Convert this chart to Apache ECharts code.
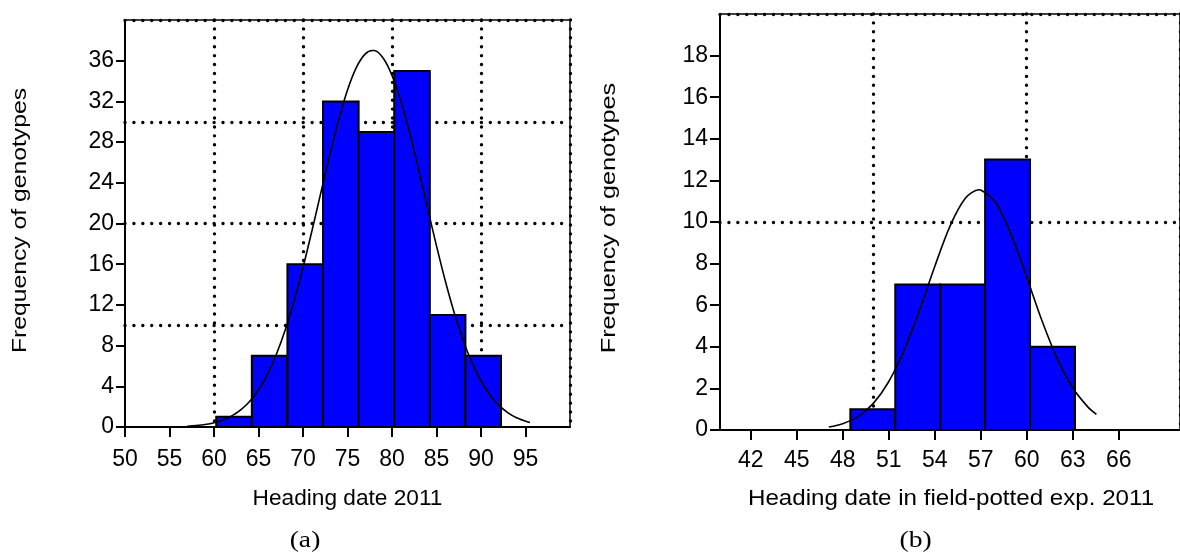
<!DOCTYPE html>
<html>
<head>
<meta charset="utf-8">
<script src="https://cdn.jsdelivr.net/npm/echarts@6/dist/echarts.min.js"></script>
<style>
  html, body { margin: 0; padding: 0; background: #ffffff; }
  #chart { width: 1180px; height: 557px; }
</style>
</head>
<body>
<div id="chart"></div>
<script>
// ---- Panel (a): heading date 2011 ----
const aBinEdges = [60.25, 64.25, 68.25, 72.25, 76.25, 80.25, 84.25, 88.25, 92.25];
const aCounts = [1, 7, 16, 32, 29, 35, 11, 7];
// fitted normal curve
const aCurveX = [57, 58, 59, 60, 61, 62, 63, 64, 65, 66, 67, 68, 69, 70, 71, 72, 73, 74, 75, 76,
                 77, 77.8, 78, 79, 80, 81, 82, 83, 84, 85, 86, 87, 88, 89, 90, 91, 92, 93, 94, 95, 95.5];
const aCurveY = [0.08, 0.15, 0.25, 0.42, 0.69, 1.09, 1.68, 2.51, 3.66, 5.18, 7.13, 9.53, 12.39, 15.67,
                 19.26, 23.01, 26.72, 30.17, 33.12, 35.35, 36.67, 37.0, 37.0, 36.26, 34.55, 32.02, 28.84,
                 25.25, 21.5, 17.8, 14.32, 11.2, 8.51, 6.3, 4.52, 3.16, 2.15, 1.42, 0.91, 0.57, 0.44];
const aXTicks = [50, 55, 60, 65, 70, 75, 80, 85, 90, 95];
const aYTicks = [0, 4, 8, 12, 16, 20, 24, 28, 32, 36];

// ---- Panel (b): heading date in field-potted exp. 2011 ----
const bBinEdges = [48.5, 51.43, 54.36, 57.29, 60.22, 63.15];
const bCounts = [1, 7, 7, 13, 4];
const bCurveX = [47.1, 48, 49, 50, 51, 52, 53, 54, 55, 56, 56.88, 57, 58, 59, 60, 61, 62, 63, 64, 64.55];
const bCurveY = [0.14, 0.30, 0.64, 1.28, 2.32, 3.82, 5.74, 7.85, 9.80, 11.14, 11.55, 11.54, 10.90,
                 9.37, 7.35, 5.25, 3.42, 2.03, 1.10, 0.75];
const bXTicks = [42, 45, 48, 51, 54, 57, 60, 63, 66];
const bYTicks = [0, 2, 4, 6, 8, 10, 12, 14, 16, 18];

const SANS = '"Liberation Sans", Arial, Helvetica, sans-serif';
const SERIF = '"Liberation Serif", "Times New Roman", serif';

const dotted = { color: '#000', width: 3.4, type: [0.01, 8.9], cap: 'round' };

function labelAxis(grid, min, max, ticks, margin, tickLen) {
  return {
    gridIndex: grid, type: 'value', min: min, max: max,
    axisLine: { show: true, onZero: false, lineStyle: { color: '#000', width: 2 } },
    axisTick: { show: true, length: tickLen, customValues: ticks, lineStyle: { color: '#000', width: 2 } },
    axisLabel: { show: true, customValues: ticks, margin: margin, fontSize: 23, color: '#000', fontFamily: SANS },
    splitLine: { show: false }
  };
}
function gridAxis(grid, min, max, interval) {
  return {
    gridIndex: grid, type: 'value', min: min, max: max, interval: interval,
    axisLine: { show: false }, axisTick: { show: false }, axisLabel: { show: false },
    splitLine: { show: true, showMinLine: false, showMaxLine: true, lineStyle: dotted }
  };
}

function histData(edges, counts) {
  return counts.map((c, i) => [edges[i], edges[i + 1], c]);
}
function pairs(xs, ys) {
  return xs.map((x, i) => [x, ys[i]]);
}

function histSeries(xi, yi, data) {
  return {
    type: 'custom', xAxisIndex: xi, yAxisIndex: yi, z: 3,
    encode: { x: [0, 1], y: 2 },
    data: data,
    renderItem: function (params, api) {
      const p0 = api.coord([api.value(0), api.value(2)]);
      const p1 = api.coord([api.value(1), 0]);
      return {
        type: 'rect',
        shape: { x: p0[0], y: p0[1], width: p1[0] - p0[0], height: p1[1] - p0[1] },
        style: { fill: '#0000ff', stroke: '#000', lineWidth: 2 }
      };
    }
  };
}
function curveSeries(xi, yi, data) {
  return {
    type: 'line', xAxisIndex: xi, yAxisIndex: yi, z: 5,
    data: data, smooth: 0.3, showSymbol: false, symbol: 'none',
    lineStyle: { color: '#000', width: 1.6 }
  };
}

function label(text, x, y, font, sx, rot) {
  return {
    type: 'text', x: x, y: y, rotation: rot || 0, scaleX: sx, z: 10,
    style: { text: text, font: font, fill: '#000', align: 'center', verticalAlign: 'middle' }
  };
}

const chart = echarts.init(document.getElementById('chart'), null, { renderer: 'canvas' });
chart.setOption({
  animation: false,
  backgroundColor: '#ffffff',
  grid: [
    { left: 125, top: 20, width: 445, height: 407, show: true, borderColor: '#000', borderWidth: 1.5, backgroundColor: 'transparent' },
    { left: 720, top: 14, width: 468, height: 416, show: true, borderColor: '#000', borderWidth: 1.5, backgroundColor: 'transparent' }
  ],
  xAxis: [
    labelAxis(0, 50, 100, aXTicks, 21, 10),
    gridAxis(0, 50, 100, 10),
    labelAxis(1, 40, 70, bXTicks, 19, 10),
    gridAxis(1, 40, 70, 10)
  ],
  yAxis: [
    labelAxis(0, 0, 40, aYTicks, 11, 9),
    gridAxis(0, 0, 40, 10),
    labelAxis(1, 0, 20, bYTicks, 12, 10),
    gridAxis(1, 0, 20, 10)
  ],
  series: [
    histSeries(0, 0, histData(aBinEdges, aCounts)),
    curveSeries(0, 0, pairs(aCurveX, aCurveY)),
    histSeries(2, 2, histData(bBinEdges, bCounts)),
    curveSeries(2, 2, pairs(bCurveX, bCurveY))
  ],
  graphic: [
    label('Frequency of genotypes', 20, 220.5, '21px ' + SANS, 1.176, Math.PI / 2),
    label('Frequency of genotypes', 609, 218, '21px ' + SANS, 1.2, Math.PI / 2),
    label('Heading date 2011', 347.5, 498.7, '22px ' + SANS, 1.03),
    label('Heading date in field-potted exp. 2011', 951, 499.3, '22px ' + SANS, 1.097),
    label('(a)', 305, 540.5, '24px ' + SERIF, 1.15),
    label('(b)', 915.7, 540.5, '24px ' + SERIF, 1.15)
  ]
});
</script>
</body>
</html>
